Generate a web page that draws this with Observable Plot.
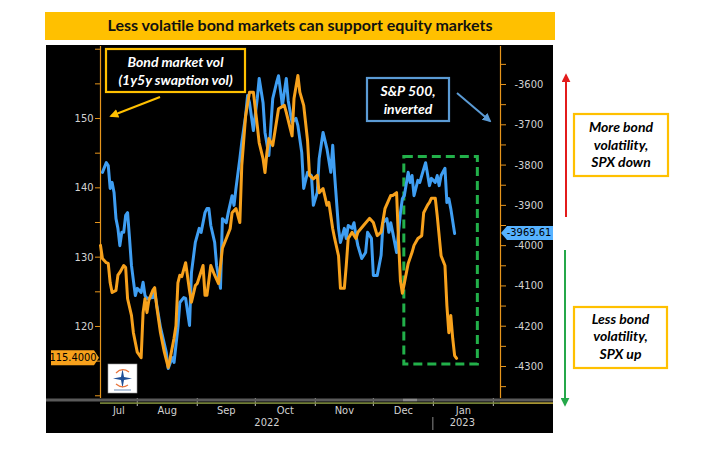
<!DOCTYPE html>
<html>
<head>
<meta charset="utf-8">
<script src="https://cdn.jsdelivr.net/npm/d3@7"></script>
<script src="https://cdn.jsdelivr.net/npm/@observablehq/plot@0.6"></script>
<style>
  html, body { margin: 0; padding: 0; background: #fff; }
  #chart { position: relative; width: 703px; height: 451px; overflow: hidden; }
</style>
</head>
<body>
<div id="chart"></div>
<script>
// 1y5y swaption volatility (left axis)
const volDates = [
  "2022-07-13","2022-07-14","2022-07-16","2022-07-17","2022-07-18","2022-07-19","2022-07-21","2022-07-22",
  "2022-07-23","2022-07-25","2022-07-26","2022-07-27","2022-07-29","2022-07-30","2022-08-01","2022-08-03",
  "2022-08-04","2022-08-05","2022-08-06","2022-08-07","2022-08-08","2022-08-09","2022-08-10","2022-08-11",
  "2022-08-13","2022-08-15","2022-08-17","2022-08-18","2022-08-20","2022-08-21","2022-08-22","2022-08-23",
  "2022-08-24","2022-08-26","2022-08-28","2022-08-29","2022-08-31","2022-09-01","2022-09-04","2022-09-05",
  "2022-09-06","2022-09-08","2022-09-10","2022-09-12","2022-09-14","2022-09-16","2022-09-18","2022-09-19",
  "2022-09-21","2022-09-23","2022-09-24","2022-09-26","2022-09-28","2022-09-30","2022-10-02","2022-10-03",
  "2022-10-05","2022-10-06","2022-10-07","2022-10-08","2022-10-10","2022-10-13","2022-10-16","2022-10-17",
  "2022-10-19","2022-10-20","2022-10-21","2022-10-23","2022-10-24","2022-10-26","2022-10-28","2022-10-29",
  "2022-10-31","2022-11-02","2022-11-03","2022-11-05","2022-11-07","2022-11-08","2022-11-10","2022-11-11",
  "2022-11-13","2022-11-14","2022-11-16","2022-11-17","2022-11-18","2022-11-20","2022-11-22","2022-11-23",
  "2022-11-26","2022-11-29","2022-12-01","2022-12-03","2022-12-05","2022-12-07","2022-12-10","2022-12-11",
  "2022-12-13","2022-12-14","2022-12-15","2022-12-16","2022-12-19","2022-12-21","2022-12-22","2022-12-24",
  "2022-12-26","2022-12-27","2022-12-29","2022-12-30","2022-12-31","2023-01-02","2023-01-03","2023-01-05",
  "2023-01-07","2023-01-08","2023-01-09","2023-01-10","2023-01-11","2023-01-12","2023-01-13"
];
const volValues = [
  131.7,129.8,129.2,129.1,126.3,124.9,125.2,127.4,
  127.8,128.8,128.5,124.0,121.6,119.1,116.3,115.5,
  122.0,124.0,122.0,123.8,124.5,125.2,125.6,123.0,
  119.1,116.3,114.1,115.4,118.3,120.1,126.3,127.4,
  127.2,129.2,125.2,123.5,125.9,126.2,128.8,124.5,
  124.5,128.8,127.4,126.2,131.3,132.7,134.1,136.4,
  137.0,135.0,143.2,150.4,153.8,153.8,149.0,146.5,
  144.2,142.2,145.1,147.1,146.1,151.4,151.9,150.9,
  148.6,147.5,152.9,156.2,153.8,151.9,146.8,141.8,
  141.3,141.8,139.3,139.9,137.5,137.9,134.1,132.7,
  130.2,125.5,125.5,128.8,132.7,133.6,132.7,133.6,
  134.6,135.6,135.0,133.1,133.6,137.0,138.9,138.9,
  139.3,132.4,126.6,124.8,129.1,130.7,131.7,132.7,
  133.1,136.4,137.5,137.9,138.5,138.5,136.0,130.2,
  128.8,123.0,119.1,121.6,118.3,115.8,115.4
];

// S&P 500, inverted (right axis)
const spxDates = [
  "2022-07-14","2022-07-16","2022-07-17","2022-07-18","2022-07-19","2022-07-20","2022-07-21","2022-07-22",
  "2022-07-23","2022-07-24","2022-07-25","2022-07-26","2022-07-27","2022-07-28","2022-07-29","2022-07-31",
  "2022-08-01","2022-08-03","2022-08-04","2022-08-05","2022-08-06","2022-08-09","2022-08-10","2022-08-13",
  "2022-08-16","2022-08-17","2022-08-19","2022-08-20","2022-08-22","2022-08-23","2022-08-25","2022-08-26",
  "2022-08-28","2022-08-29","2022-08-31","2022-09-02","2022-09-03","2022-09-05","2022-09-06","2022-09-07",
  "2022-09-08","2022-09-10","2022-09-11","2022-09-13","2022-09-14","2022-09-16","2022-09-17","2022-09-19",
  "2022-09-20","2022-09-21","2022-09-23","2022-09-24","2022-09-26","2022-09-27","2022-09-28","2022-09-30",
  "2022-10-02","2022-10-03","2022-10-05","2022-10-06","2022-10-08","2022-10-10","2022-10-12","2022-10-13",
  "2022-10-15","2022-10-17","2022-10-18","2022-10-20","2022-10-22","2022-10-23","2022-10-25","2022-10-26",
  "2022-10-28","2022-10-30","2022-10-31","2022-11-02","2022-11-03","2022-11-05","2022-11-07","2022-11-09",
  "2022-11-10","2022-11-11","2022-11-13","2022-11-14","2022-11-16","2022-11-17","2022-11-18","2022-11-20",
  "2022-11-21","2022-11-22","2022-11-23","2022-11-25","2022-11-27","2022-11-28","2022-11-30","2022-12-01",
  "2022-12-03","2022-12-05","2022-12-06","2022-12-08","2022-12-09","2022-12-10","2022-12-11","2022-12-13",
  "2022-12-15","2022-12-16","2022-12-17","2022-12-19","2022-12-20","2022-12-21","2022-12-22","2022-12-24",
  "2022-12-25","2022-12-26","2022-12-28","2022-12-30","2022-12-31","2023-01-02","2023-01-03","2023-01-04",
  "2023-01-05","2023-01-07","2023-01-08","2023-01-09","2023-01-10","2023-01-12"
];
const spxValues = [
  -3818,-3794,-3801,-3858,-3843,-3868,-3933,-3957,
  -4000,-3967,-3967,-3925,-3918,-3982,-4049,-4124,
  -4106,-4116,-4091,-4124,-4131,-4129,-4116,-4203,
  -4265,-4305,-4278,-4290,-4203,-4141,-4129,-4131,
  -4198,-4067,-3992,-3957,-3967,-3918,-3908,-3908,
  -3950,-3992,-4049,-4106,-3933,-3943,-3918,-3876,
  -3900,-3858,-3784,-3744,-3677,-3627,-3645,-3714,
  -3635,-3585,-3645,-3719,-3776,-3635,-3595,-3578,
  -3652,-3585,-3640,-3694,-3684,-3702,-3769,-3858,
  -3818,-3826,-3900,-3868,-3784,-3719,-3759,-3818,
  -3751,-3826,-3957,-3992,-3957,-3982,-3950,-3957,
  -3943,-3975,-4000,-4032,-4017,-3967,-3982,-4074,
  -4074,-4024,-3943,-3933,-3967,-3943,-3967,-4017,
  -3918,-3883,-3876,-3818,-3843,-3826,-3876,-3838,
  -3843,-3826,-3794,-3851,-3833,-3843,-3826,-3851,
  -3826,-3808,-3893,-3883,-3908,-3969.61
];

// Axis ticks
const volTicks = [110, 115, 120, 125, 130, 135, 140, 145, 150, 155, 160];
const volTickLabels = [120, 130, 140, 150];
const spxTicks = [-3550, -3600, -3650, -3700, -3750, -3800, -3850, -3900, -3950, -4000, -4050, -4100, -4150, -4200, -4250, -4300, -4350];
const spxTickLabels = [-3600, -3700, -3800, -3900, -4000, -4100, -4200, -4300];
const yearLabels = [["2022-10-07", "2022"], ["2023-01-16", "2023"]];

const ORANGE = "#f7a11c";
const BLUE = "#3f9ef2";
const AXIS = "#e6951c";
const LABEL = "#d2d2d2";
const FONT = "'Liberation Sans Narrow', 'DejaVu Sans Condensed', 'Liberation Sans', sans-serif";

const parse = d3.utcParse("%Y-%m-%d");
const vol = volDates.map((d, i) => ({date: parse(d), value: volValues[i]}));
const spx = spxDates.map((d, i) => ({date: parse(d), value: spxValues[i]}));

// Time window shown on the x axis
const start = Date.UTC(2022, 6, 13);
const xDomain = [new Date(start), new Date(start + 206.7 * 864e5)];

// The inverted S&P 500 is drawn against the volatility scale via this mapping
const spxToVol = d3.scaleLinear().domain([-3600, -4300]).range([154.904, 114.227]);

// Month boundaries and label positions (centred in the visible part of each month)
const monthStarts = d3.utcMonths(new Date(Date.UTC(2022, 7, 1)), new Date(Date.UTC(2023, 1, 2)));
const monthEdges = [xDomain[0], ...monthStarts];
const monthLabels = monthEdges.slice(0, -1).map((d, i) => new Date((+d + +monthEdges[i + 1]) / 2));

const highlight = {x1: parse("2022-12-17"), x2: parse("2023-01-24"), y1: -3780, y2: -4295};

const chart = Plot.plot({
  width: 703,
  height: 451,
  marginLeft: 100,
  marginRight: 203,
  marginTop: 46,
  marginBottom: 53,
  style: {background: "white", overflow: "visible", fontFamily: FONT},
  x: {type: "utc", domain: xDomain, label: null},
  y: {domain: [109.61, 160.39], label: null},
  marks: [
    // axis lines
    Plot.ruleX([xDomain[0]], {stroke: AXIS, strokeWidth: 1.2}),
    Plot.ruleX([xDomain[1]], {stroke: AXIS, strokeWidth: 1.2}),
    // left axis (bond vol)
    Plot.axisY(volTicks, {anchor: "left", label: null, tickSize: 5, tickPadding: 2, stroke: AXIS, fill: LABEL, fontSize: 11,
      tickFormat: d => volTickLabels.includes(d) ? String(d) : ""}),
    // right axis (S&P 500 inverted)
    Plot.axisY(spxTicks.map(spxToVol), {anchor: "right", label: null, tickSize: 5, tickPadding: 9, stroke: AXIS, fill: LABEL, fontSize: 11,
      tickFormat: v => { const s = Math.round(spxToVol.invert(v)); return spxTickLabels.includes(s) ? String(s) : ""; }}),
    // month boundary ticks
    Plot.axisX(monthStarts, {anchor: "bottom", label: null, tickSize: 8, stroke: "#bdbdbd", tickFormat: () => ""}),
    // month names
    Plot.axisX(monthLabels, {anchor: "bottom", label: null, tickSize: 0, tickPadding: 8, fill: LABEL, fontSize: 11, tickFormat: d3.utcFormat("%b")}),
    // years
    Plot.axisX(yearLabels.map(d => parse(d[0])), {anchor: "bottom", label: null, tickSize: 0, tickPadding: 20, fill: LABEL, fontSize: 11,
      tickFormat: d => yearLabels.find(y => +parse(y[0]) === +d)[1]}),
    // highlighted period
    Plot.rect([highlight], {x1: "x1", x2: "x2", y1: d => spxToVol(d.y1), y2: d => spxToVol(d.y2),
      fill: "none", stroke: "#22b04a", strokeWidth: 3, strokeDasharray: "9,5"}),
    // series
    Plot.line(spx, {x: "date", y: d => spxToVol(d.value), stroke: BLUE, strokeWidth: 3, strokeLinejoin: "round"}),
    Plot.line(vol, {x: "date", y: "value", stroke: ORANGE, strokeWidth: 3, strokeLinejoin: "round"})
  ]
});

document.getElementById("chart").appendChild(chart);

const xs = chart.scale("x");
const ys = chart.scale("y");
const svg = d3.select(chart);

// background: title banner and black chart panel
const bg = svg.insert("g", ":first-child");
bg.append("rect").attr("x", 45).attr("y", 12).attr("width", 510).attr("height", 28).attr("fill", "#ffc000");
bg.append("text").attr("x", 300).attr("y", 26.5).attr("text-anchor", "middle").attr("dominant-baseline", "middle")
  .attr("font-family", "Lato, 'Open Sans', sans-serif").attr("font-weight", 700).attr("font-size", 16).attr("fill", "#111")
  .text("Less volatile bond markets can support equity markets");
bg.append("rect").attr("x", 46).attr("y", 45).attr("width", 507).attr("height", 388).attr("fill", "#000");

const defs = svg.append("defs");
function marker(id, color) {
  defs.append("marker").attr("id", id).attr("viewBox", "0 0 10 10").attr("refX", 8).attr("refY", 5)
    .attr("markerWidth", 4.5).attr("markerHeight", 4.5).attr("orient", "auto")
    .append("path").attr("d", "M0,0L10,5L0,10z").attr("fill", color);
}
marker("ah-orange", "#ffc000");
marker("ah-blue", "#5b9bd5");
marker("ah-red", "#e31b1b");
marker("ah-green", "#25a84a");

const fg = svg.append("g");

// scroll bar and news strip under the plot
fg.append("rect").attr("x", 46).attr("y", 398.5).attr("width", 507).attr("height", 3).attr("fill", "#5a5a5a");
fg.append("rect").attr("x", 403).attr("y", 398.8).attr("width", 14).attr("height", 2.4).attr("fill", "#8a8a8a");
fg.append("rect").attr("x", 100).attr("y", 402.3).attr("width", 400).attr("height", 1.6).attr("fill", "#7d8b3c");
fg.append("rect").attr("x", 500).attr("y", 402.3).attr("width", 53).attr("height", 1.6).attr("fill", "#b9a53a");

// year separator
const jan1 = xs.apply(parse("2023-01-01"));
fg.append("line").attr("x1", jan1).attr("x2", jan1).attr("y1", 417).attr("y2", 430).attr("stroke", "#8a8a8a");

// last-value tags
const lastVol = vol[vol.length - 1].value;
const lastSpx = spx[spx.length - 1].value;
const yv = ys.apply(lastVol);
fg.append("path").attr("d", `M51,${yv - 7.5}H94L99,${yv}L94,${yv + 7.5}H51Z`).attr("fill", ORANGE);
fg.append("text").attr("x", 73).attr("y", yv + 0.5).attr("text-anchor", "middle").attr("dominant-baseline", "middle")
  .attr("font-family", FONT).attr("font-size", 11).attr("fill", "#000").text(lastVol.toFixed(4));
const ysx = ys.apply(spxToVol(lastSpx));
fg.append("path").attr("d", `M507,${ysx - 7}H553V${ysx + 7}H507L501,${ysx}Z`).attr("fill", "#56b2ff");
fg.append("text").attr("x", 529).attr("y", ysx + 0.5).attr("text-anchor", "middle").attr("dominant-baseline", "middle")
  .attr("font-family", FONT).attr("font-size", 11).attr("fill", "#000").text(lastSpx.toFixed(2));

// small logo in the lower-left corner
const logo = fg.append("g").attr("transform", "translate(108,364)");
logo.append("rect").attr("width", 29).attr("height", 29).attr("fill", "#fff").attr("stroke", "#999").attr("stroke-width", 0.6);
logo.append("path").attr("d", "M14.5,5 L16,13 L24,14.5 L16,16 L14.5,24 L13,16 L5,14.5 L13,13 Z").attr("fill", "#1f4f96");
logo.append("path").attr("d", "M8,9 Q14,3 21,8 M20,21 Q14,25 8,20").attr("fill", "none").attr("stroke", "#e8743b").attr("stroke-width", 1.2);
logo.append("rect").attr("x", 6).attr("y", 25.5).attr("width", 17).attr("height", 1).attr("fill", "#6b8bb5");

// annotations
const ANN_FONT = "Lato, 'Open Sans', sans-serif";
function box(x, y, w, h, stroke, fill, lines, lineYs, color) {
  fg.append("rect").attr("x", x).attr("y", y).attr("width", w).attr("height", h)
    .attr("fill", fill).attr("stroke", stroke).attr("stroke-width", 2.2);
  lines.forEach((t, i) => {
    fg.append("text").attr("x", x + w / 2).attr("y", lineYs[i]).attr("text-anchor", "middle").attr("dominant-baseline", "middle")
      .attr("font-family", ANN_FONT).attr("font-weight", 700).attr("font-style", "italic").attr("font-size", 14)
      .attr("fill", color).text(t);
  });
}
function arrow(x1, y1, x2, y2, color, id) {
  fg.append("line").attr("x1", x1).attr("y1", y1).attr("x2", x2).attr("y2", y2)
    .attr("stroke", color).attr("stroke-width", 2).attr("marker-end", `url(#${id})`);
}

box(106, 49, 139, 43, "#ffc000", "#000", ["Bond market vol", "(1y5y swaption vol)"], [63, 81.5], "#fff");
arrow(160, 97, 111, 116, "#ffc000", "ah-orange");
box(367, 78, 82, 43, "#5b9bd5", "#000", ["S&P 500,", "inverted"], [92, 110], "#fff");
arrow(457, 93, 490, 121, "#5b9bd5", "ah-blue");

arrow(566, 217, 566, 75, "#e31b1b", "ah-red");
arrow(565, 250, 565, 405, "#25a84a", "ah-green");
box(574, 114, 94, 62, "#ffc000", "#fff", ["More bond", "volatility,", "SPX down"], [128, 146, 163], "#000");
box(574, 307, 93, 61, "#ffc000", "#fff", ["Less bond", "volatility,", "SPX up"], [320, 337.5, 355], "#000");
</script>
</body>
</html>
